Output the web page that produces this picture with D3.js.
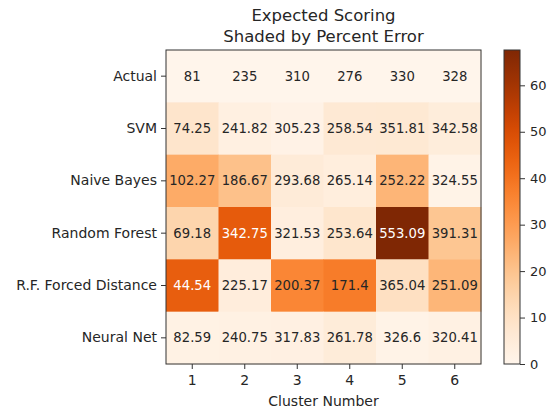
<!DOCTYPE html>
<html>
<head>
<meta charset="utf-8">
<script src="https://cdn.jsdelivr.net/npm/d3@7"></script>
<style>
  body { margin: 0; background: #fff; }
  text { font-family: "DejaVu Sans", sans-serif; fill: #262626; }
</style>
</head>
<body>
<svg id="chart"></svg>
<script>
const models = ["Actual", "SVM", "Naive Bayes", "Random Forest", "R.F. Forced Distance", "Neural Net"];
const clusters = [1, 2, 3, 4, 5, 6];

const actual = [81, 235, 310, 276, 330, 328];
const svmVals = [74.25, 241.82, 305.23, 258.54, 351.81, 342.58];
const naiveBayes = [102.27, 186.67, 293.68, 265.14, 252.22, 324.55];
const randomForest = [69.18, 342.75, 321.53, 253.64, 553.09, 391.31];
const rfForced = [44.54, 225.17, 200.37, 171.4, 365.04, 251.09];
const neuralNet = [82.59, 240.75, 317.83, 261.78, 326.6, 320.41];

const rows = [actual, svmVals, naiveBayes, randomForest, rfForced, neuralNet];
const colorTicks = [0, 10, 20, 30, 40, 50, 60];

const W = 548, H = 409;
const margin = { top: 50, left: 166 },
  width = 315,
  height = 314;

const svg = d3.select("#chart").attr("width", W).attr("height", H);
const g = svg.append("g").attr("transform", "translate(" + margin.left + "," + margin.top + ")");

// cell colour = percent error against the Actual row
const cells = [];
rows.forEach((r, i) => {
  r.forEach((v, j) => {
    cells.push({
      model: models[i],
      cluster: clusters[j],
      value: v,
      err: Math.abs(v - actual[j]) / actual[j] * 100,
    });
  });
});

const maxErr = d3.max(cells, (d) => d.err);

const x = d3.scaleBand().domain(clusters).range([0, width]);
const y = d3.scaleBand().domain(models).range([0, height]);
const color = d3.scaleSequential(d3.interpolateOranges).domain([0, maxErr]);

g.selectAll(".cell")
  .data(cells)
  .enter()
  .append("rect")
  .attr("class", "cell")
  .attr("x", (d) => x(d.cluster))
  .attr("y", (d) => y(d.model))
  .attr("width", x.bandwidth() + 0.5)
  .attr("height", y.bandwidth() + 0.5)
  .attr("fill", (d) => color(d.err));

g.selectAll(".val")
  .data(cells)
  .enter()
  .append("text")
  .attr("class", "val")
  .attr("x", (d) => x(d.cluster) + x.bandwidth() / 2)
  .attr("y", (d) => y(d.model) + y.bandwidth() / 2)
  .attr("text-anchor", "middle")
  .attr("dy", "0.35em")
  .style("font-size", "13.2px")
  .style("fill", (d) => (d.err > 40 ? "#fff" : "#262626"))
  .text((d) => d.value);

g.append("rect")
  .attr("width", width)
  .attr("height", height)
  .attr("fill", "none")
  .attr("stroke", "#333")
  .attr("stroke-width", 1);

const xAxis = g.append("g")
  .attr("transform", "translate(0," + height + ")")
  .call(d3.axisBottom(x).tickSize(5).tickPadding(6));
const yAxis = g.append("g").call(d3.axisLeft(y).tickSize(5).tickPadding(4));

[xAxis, yAxis].forEach((a) => {
  a.select(".domain").remove();
  a.selectAll("line").attr("stroke", "#333");
  a.selectAll("text").style("font-size", "14px").style("font-family", "DejaVu Sans").attr("fill", "#262626");
});

g.append("text")
  .attr("x", width / 2)
  .attr("y", height + 42)
  .attr("text-anchor", "middle")
  .style("font-size", "14px")
  .text("Cluster Number");

const title = svg.append("text")
  .attr("text-anchor", "middle")
  .style("font-size", "16.5px");
title.append("tspan").attr("x", margin.left + width / 2).attr("y", 21).text("Expected Scoring");
title.append("tspan").attr("x", margin.left + width / 2).attr("y", 42).text("Shaded by Percent Error");

// colorbar
const cbX = 504, cbW = 16;
const cbScale = d3.scaleLinear().domain([0, maxErr]).range([margin.top + height, margin.top]);

const defs = svg.append("defs");
const grad = defs.append("linearGradient")
  .attr("id", "cbGrad")
  .attr("x1", 0).attr("y1", 1).attr("x2", 0).attr("y2", 0);
d3.range(0, 1.0001, 0.05).forEach((t) => {
  grad.append("stop").attr("offset", t).attr("stop-color", d3.interpolateOranges(t));
});

svg.append("rect")
  .attr("x", cbX)
  .attr("y", margin.top)
  .attr("width", cbW)
  .attr("height", height)
  .attr("fill", "url(#cbGrad)")
  .attr("stroke", "#333")
  .attr("stroke-width", 1);

const cbAxis = svg.append("g")
  .attr("transform", "translate(" + (cbX + cbW) + ",0)")
  .call(d3.axisRight(cbScale).tickValues(colorTicks).tickSize(5).tickPadding(5));
cbAxis.select(".domain").remove();
cbAxis.selectAll("line").attr("stroke", "#333");
cbAxis.selectAll("text").style("font-size", "13px").style("font-family", "DejaVu Sans").attr("fill", "#262626");
</script>
</body>
</html>
